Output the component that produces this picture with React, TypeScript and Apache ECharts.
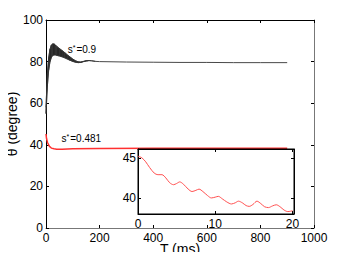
import React, { useEffect, useRef } from "react";
import * as echarts from "echarts";

// Main chart: black curve (s* = 0.9), band between low and high
const blackT = [0, 5, 10, 15, 20, 25, 30, 35, 40, 50, 60, 70, 80, 90, 100, 110, 120, 130, 140, 150, 160, 170, 185, 200, 250, 300, 400, 500, 600, 700, 800, 900];
const blackLow = [55, 68, 76, 80, 82, 83, 83.2, 83.2, 83, 82.7, 82.3, 81.8, 81.2, 80.6, 80.1, 79.7, 79.5, 79.6, 80.0, 80.3, 80.5, 80.4, 80.1, 80.0, 79.9, 79.8, 79.7, 79.6, 79.6, 79.5, 79.5, 79.5];
const blackHigh = [58, 74, 82, 86, 88, 88.5, 88.5, 88, 87.3, 86.3, 85.3, 84.3, 83.2, 82.2, 81.2, 80.4, 79.9, 79.8, 80.1, 80.4, 80.5, 80.4, 80.1, 80.0, 79.9, 79.8, 79.7, 79.6, 79.6, 79.5, 79.5, 79.5];

// Main chart: red curve (s* = 0.481)
const redT = [0, 2, 4, 6, 8, 10, 12, 14, 16, 18, 20, 30, 40, 60, 100, 200, 400, 600, 900];
const redV = [45.2, 43, 42, 41, 40.5, 40, 39.4, 39.1, 38.9, 38.7, 38.4, 38.1, 37.9, 37.9, 38.1, 38.2, 38.3, 38.3, 38.3];

// Inset: red curve zoomed on first 20 ms
const insetT = [0, 0.5, 1, 1.5, 2.1, 2.6, 3.1, 3.6, 4.1, 4.6, 5.0, 5.4, 5.9, 6.5, 7.0, 7.5, 7.9, 8.4, 9.0, 9.5, 10.0, 10.4, 10.9, 11.5, 12.1, 12.6, 13.0, 13.5, 14.0, 14.4, 14.9, 15.4, 15.9, 16.4, 16.9, 17.4, 17.9, 18.4, 18.9, 19.4, 20];
const insetV = [45.2, 45.0, 44.5, 43.8, 43.1, 42.9, 42.9, 42.5, 41.9, 41.65, 41.8, 42.0, 41.7, 41.1, 40.8, 40.95, 41.1, 40.8, 40.3, 40.0, 40.1, 40.2, 39.9, 39.5, 39.25, 39.4, 39.6, 39.4, 39.05, 38.95, 39.2, 39.6, 39.3, 38.9, 38.8, 39.0, 39.15, 38.9, 38.5, 38.3, 38.4];

const xTicksInset = [0, 10, 20];
const yTicksInset = [40, 45];

const FONT = "'Liberation Sans', Arial, Helvetica, sans-serif";

export default function App() {
  const ref = useRef<HTMLDivElement>(null);
  useEffect(() => {
    if (!ref.current) return;
    const chart = echarts.init(ref.current, null, { renderer: "svg" });
    const lowData = blackT.map((t, i) => [t, blackLow[i]]);
    const highData = blackT.map((t, i) => [t, blackHigh[i]]);
    const bandData = blackT.map((t, i) => [t, blackLow[i], blackHigh[i]]);
    const redData = redT.map((t, i) => [t, redV[i]]);
    const insetData = insetT.map((t, i) => [t, insetV[i]]);

    const fmt = (v: number) => String(v);
    const mainTick = { show: true, inside: true, length: 3, lineStyle: { color: "#000" } };
    const label = { color: "#000", fontFamily: FONT, fontSize: 12, formatter: fmt };
    const rich = {
      s: { fontSize: 10, fontFamily: FONT, color: "#000", lineHeight: 12 },
      st: { fontSize: 7, fontFamily: FONT, color: "#000", verticalAlign: "top", lineHeight: 8, padding: [0, 1, 6, 0] },
    };

    chart.setOption({
      animation: false,
      backgroundColor: "#fff",
      grid: [
        { left: 46, top: 20, width: 268, height: 208, show: false, outerBoundsMode: "none", containLabel: false },
        { left: 138, top: 149, width: 156, height: 65, show: true, backgroundColor: "#fff", borderColor: "#000", borderWidth: 1, z: 5, outerBoundsMode: "none", containLabel: false },
      ],
      xAxis: [
        {
          type: "value", gridIndex: 0, position: "bottom", min: 0, max: 1000, interval: 200,
          axisLine: { show: true, onZero: false, lineStyle: { color: "#777" } },
          axisTick: mainTick, splitLine: { show: false },
          axisLabel: { ...label, margin: 4 },
          name: "T (ms)", nameLocation: "middle", nameGap: 14, nameMoveOverlap: false,
          nameTextStyle: { color: "#000", fontFamily: FONT, fontSize: 14 },
        },
        {
          type: "value", gridIndex: 0, position: "top", min: 0, max: 1000, interval: 200,
          axisLine: { show: true, onZero: false, lineStyle: { color: "#000" } },
          axisTick: mainTick, splitLine: { show: false }, axisLabel: { show: false },
        },
        {
          type: "value", gridIndex: 1, position: "bottom", min: 0, max: 20.2, z: 6,
          axisLine: { show: true, onZero: false, lineStyle: { color: "#000" } },
          axisTick: { show: true, inside: true, length: 3, customValues: xTicksInset, lineStyle: { color: "#000" } },
          splitLine: { show: false },
          axisLabel: { ...label, margin: 4, customValues: xTicksInset },
        },
        {
          type: "value", gridIndex: 1, position: "top", min: 0, max: 20.2, z: 6,
          axisLine: { show: true, onZero: false, lineStyle: { color: "#000" } },
          axisTick: { show: true, inside: true, length: 3, customValues: xTicksInset, lineStyle: { color: "#000" } },
          splitLine: { show: false }, axisLabel: { show: false },
        },
      ],
      yAxis: [
        {
          type: "value", gridIndex: 0, position: "left", min: 0, max: 100, interval: 20,
          axisLine: { show: true, onZero: false, lineStyle: { color: "#000" } },
          axisTick: mainTick, splitLine: { show: false },
          axisLabel: { ...label, margin: 3 },
          name: "θ (degree)", nameLocation: "middle", nameGap: 27, nameMoveOverlap: false,
          nameTextStyle: { color: "#000", fontFamily: FONT, fontSize: 14 },
        },
        {
          type: "value", gridIndex: 0, position: "right", min: 0, max: 100, interval: 20,
          axisLine: { show: true, onZero: false, lineStyle: { color: "#777" } },
          axisTick: mainTick, splitLine: { show: false }, axisLabel: { show: false },
        },
        {
          type: "value", gridIndex: 1, position: "left", min: 38, max: 46.1, z: 6,
          axisLine: { show: true, onZero: false, lineStyle: { color: "#000" } },
          axisTick: { show: true, inside: true, length: 3, customValues: yTicksInset, lineStyle: { color: "#000" } },
          splitLine: { show: false },
          axisLabel: { ...label, margin: 2, customValues: yTicksInset },
        },
        {
          type: "value", gridIndex: 1, position: "right", min: 38, max: 46.1, z: 6,
          axisLine: { show: true, onZero: false, lineStyle: { color: "#000" } },
          axisTick: { show: true, inside: true, length: 3, customValues: yTicksInset, lineStyle: { color: "#000" } },
          splitLine: { show: false }, axisLabel: { show: false },
        },
      ],
      series: [
        {
          type: "custom", xAxisIndex: 0, yAxisIndex: 0, data: bandData,
          encode: { x: 0, y: [1, 2] },
          renderItem: (params: any, api: any) => {
            const i = params.dataIndex;
            if (i >= blackT.length - 1) return null;
            const w0 = blackHigh[i] - blackLow[i];
            const w1 = blackHigh[i + 1] - blackLow[i + 1];
            if (w0 <= 0 && w1 <= 0) return null;
            const a = api.coord([blackT[i], blackLow[i]]);
            const b = api.coord([blackT[i + 1], blackLow[i + 1]]);
            const c = api.coord([blackT[i + 1], blackHigh[i + 1]]);
            const d = api.coord([blackT[i], blackHigh[i]]);
            return {
              type: "polygon",
              shape: { points: [a, b, c, d] },
              style: { fill: "#2a2a2a", stroke: "#2a2a2a", lineWidth: 0.6 },
            };
          },
        },
        {
          type: "line", xAxisIndex: 0, yAxisIndex: 0, data: lowData,
          symbol: "none", lineStyle: { color: "#333", width: 0.9 },
          markPoint: {
            symbolSize: 0,
            data: [{ coord: [81, 85.6], value: "" }],
            label: {
              show: true, position: "right", distance: 0,
              formatter: "{s|s}{st|*}{s|=0.9}", rich,
            },
          },
        },
        {
          type: "line", xAxisIndex: 0, yAxisIndex: 0, data: highData.slice(0, 23),
          symbol: "none", lineStyle: { color: "#333", width: 0.9 },
        },
        {
          type: "line", xAxisIndex: 0, yAxisIndex: 0, data: redData,
          symbol: "none", lineStyle: { color: "#ff3030", width: 1.5 },
          markPoint: {
            symbolSize: 0,
            data: [{ coord: [58, 42.8], value: "" }],
            label: {
              show: true, position: "right", distance: 0,
              formatter: "{s|s}{st|*}{s|=0.481}", rich,
            },
          },
        },
        {
          type: "line", xAxisIndex: 2, yAxisIndex: 2, data: insetData, z: 7,
          symbol: "none", smooth: 0.3, lineStyle: { color: "#ff5050", width: 1 },
        },
      ],
    });
    return () => chart.dispose();
  }, []);
  return <div ref={ref} style={{ width: 346, height: 260, margin: -8 }} />;
}
